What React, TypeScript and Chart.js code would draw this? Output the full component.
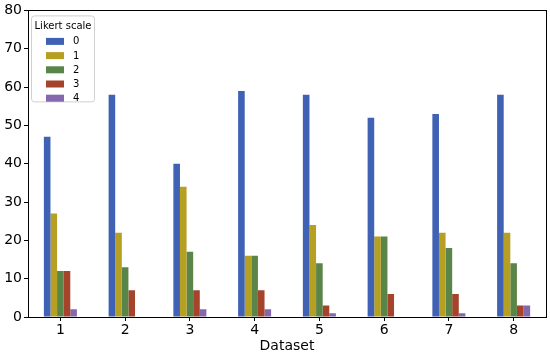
import React, { useEffect, useRef } from "react";
import { Chart, registerables } from "chart.js";
Chart.register(...registerables);

const categories = ["1", "2", "3", "4", "5", "6", "7", "8"];
const seriesNames = ["0", "1", "2", "3", "4"];
const s0 = [47, 58, 40, 59, 58, 52, 53, 58];
const s1 = [27, 22, 34, 16, 24, 21, 22, 22];
const s2 = [12, 13, 17, 16, 14, 21, 18, 14];
const s3 = [12, 7, 7, 7, 3, 6, 6, 3];
const s4 = [2, 0, 2, 2, 1, 0, 1, 3];
const yTicks = [0, 10, 20, 30, 40, 50, 60, 70, 80];
const colors = ["#3f62b4", "#b5a024", "#5a8548", "#a6432b", "#8467ad"];

const FONT = "'DejaVu Sans', sans-serif";

const framePlugin = {
  id: "frameLegend",
  afterDraw(chart: any) {
    const { ctx, chartArea } = chart;
    const { left, right, top, bottom } = chartArea;
    ctx.save();
    ctx.strokeStyle = "#000";
    ctx.lineWidth = 1;
    ctx.strokeRect(Math.round(left) + 0.5, Math.round(top) + 0.5, Math.round(right - left), Math.round(bottom - top));
    // legend
    const bx = left + 3, by = top + 5, bw = 63, bh = 86;
    ctx.fillStyle = "rgba(255,255,255,0.85)";
    ctx.strokeStyle = "#d0d0d0";
    ctx.beginPath();
    ctx.roundRect(bx + 0.5, by + 0.5, bw, bh, 3);
    ctx.fill();
    ctx.stroke();
    ctx.fillStyle = "#000";
    ctx.font = `10px ${FONT}`;
    ctx.textBaseline = "middle";
    ctx.textAlign = "center";
    ctx.fillText("Likert scale", bx + bw / 2 + 0.5, by + 11);
    ctx.textAlign = "left";
    chart.data.datasets.forEach((ds: any, i: number) => {
      const y = by + 26 + i * 14.2;
      ctx.fillStyle = ds.backgroundColor;
      ctx.fillRect(bx + 15, y - 3.5, 18, 7);
      ctx.fillStyle = "#000";
      ctx.fillText(ds.label, bx + 42, y + 0.5);
    });
    ctx.restore();
  },
};

export default function App() {
  const ref = useRef<HTMLCanvasElement>(null);
  useEffect(() => {
    const series = [s0, s1, s2, s3, s4];
    const chart = new Chart(ref.current!, {
      type: "bar",
      data: {
        labels: categories,
        datasets: series.map((d, i) => ({
          label: seriesNames[i],
          data: d,
          backgroundColor: colors[i],
          borderWidth: 0,
          categoryPercentage: 0.51,
          barPercentage: 1.0,
        })),
      },
      options: {
        animation: false,
        responsive: false,
        layout: { padding: { top: 8, right: 4, left: 0, bottom: 0 } },
        plugins: { legend: { display: false }, tooltip: { enabled: false } },
        scales: {
          x: {
            grid: { display: true, offset: false, drawOnChartArea: false, drawTicks: true, tickLength: 4, color: "#000" },
            border: { display: true, color: "#000" },
            ticks: { color: "#000", font: { family: FONT, size: 14 }, padding: 1 },
            title: { display: true, text: "Dataset", color: "#000", font: { family: FONT, size: 14 }, padding: { top: 0, bottom: 0 } },
            afterFit: (s: any) => { s.height = 38; },
          },
          y: {
            min: 0,
            max: 80,
            afterBuildTicks: (s: any) => { s.ticks = yTicks.map((v) => ({ value: v })); },
            grid: { display: true, drawOnChartArea: false, drawTicks: true, tickLength: 4, color: "#000" },
            border: { display: true, color: "#000" },
            ticks: { color: "#000", font: { family: FONT, size: 14 }, padding: 2 },
            afterFit: (s: any) => { s.width = 28; },
          },
        },
      },
      plugins: [framePlugin],
    });
    return () => chart.destroy();
  }, []);
  return (
    <div style={{ position: "fixed", left: 0, top: 0, width: 550, height: 355, background: "#fff" }}>
      <canvas ref={ref} width={550} height={355} />
    </div>
  );
}
